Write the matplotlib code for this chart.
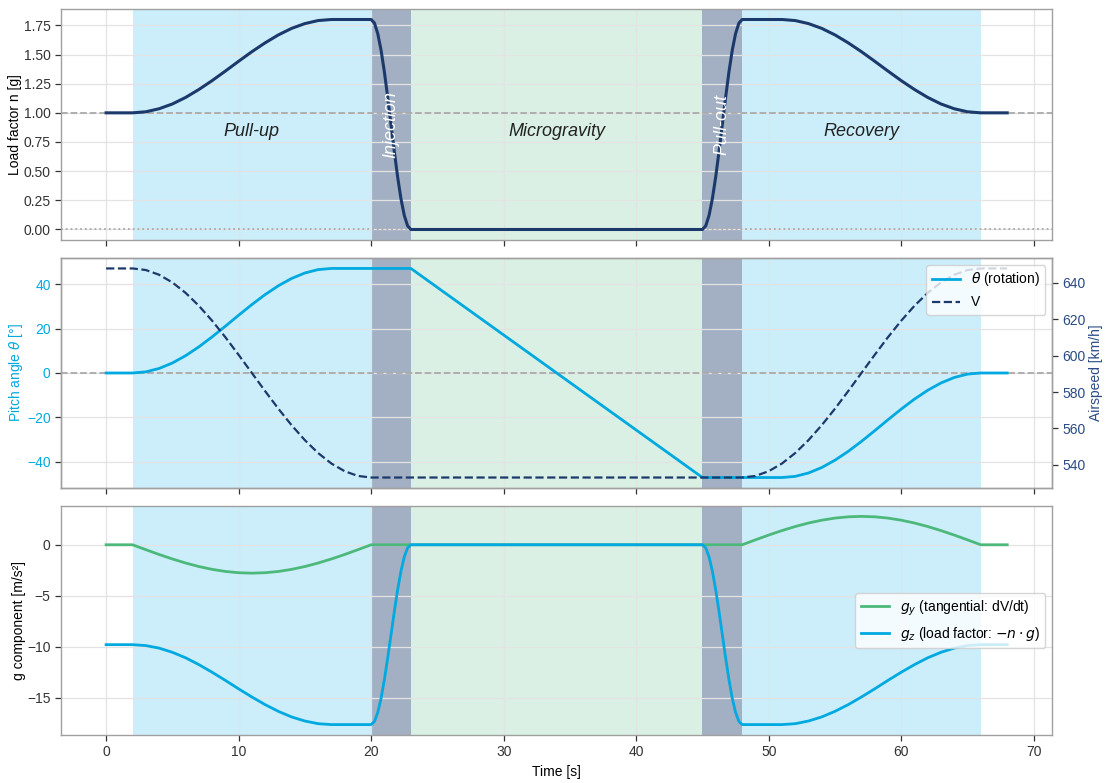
import matplotlib
matplotlib.use("Agg")
import matplotlib.pyplot as plt

plt.rcParams['font.family'] = ['Liberation Sans', 'DejaVu Sans']
plt.rcParams['mathtext.fontset'] = 'dejavusans'
plt.rcParams['axes.edgecolor'] = '#a0a0a0'
plt.rcParams['axes.linewidth'] = 1.0
plt.rcParams['grid.color'] = '#e3e3e3'
plt.rcParams['grid.linewidth'] = 0.9
plt.rcParams['xtick.color'] = '#333333'
plt.rcParams['ytick.color'] = '#333333'
plt.rcParams['xtick.labelcolor'] = '#333333'
plt.rcParams['ytick.labelcolor'] = '#333333'
plt.rcParams['axes.axisbelow'] = True

# ---------------- data ----------------
time_s = [0, 1, 2, 3, 4, 5, 6, 7, 8, 9, 10, 11, 12, 13, 14, 15, 16, 17, 18, 19, 20,
          20.25, 20.5, 20.75, 21, 21.25, 21.5, 21.75, 22, 22.25, 22.5, 22.75, 23,
          24, 25, 26, 27, 28, 29, 30, 31, 32, 33, 34, 35, 36, 37, 38, 39, 40, 41, 42, 43, 44, 45,
          45.25, 45.5, 45.75, 46, 46.25, 46.5, 46.75, 47, 47.25, 47.5, 47.75, 48,
          49, 50, 51, 52, 53, 54, 55, 56, 57, 58, 59, 60, 61, 62, 63, 64, 65, 66, 67, 68]

load_factor = [1.0, 1.0, 1.0, 1.009, 1.035, 1.076, 1.132, 1.2, 1.276, 1.358, 1.442, 1.524, 1.6, 1.668,
               1.724, 1.765, 1.791, 1.8, 1.8, 1.8, 1.8,
               1.769, 1.679, 1.536, 1.35, 1.133, 0.9, 0.667, 0.45, 0.264, 0.121, 0.031, 0.0,
               0.0, 0.0, 0.0, 0.0, 0.0, 0.0, 0.0, 0.0, 0.0, 0.0, 0.0, 0.0, 0.0, 0.0, 0.0, 0.0,
               0.0, 0.0, 0.0, 0.0, 0.0, 0.0,
               0.031, 0.121, 0.264, 0.45, 0.667, 0.9, 1.133, 1.35, 1.536, 1.679, 1.769, 1.8,
               1.8, 1.8, 1.8, 1.791, 1.765, 1.724, 1.668, 1.6, 1.524, 1.442, 1.358, 1.276, 1.2,
               1.132, 1.076, 1.035, 1.009, 1.0, 1.0, 1.0]

pitch_deg = [0.0, 0.0, 0.0, 0.51, 2.03, 4.49, 7.78, 11.75, 16.24, 21.04, 25.96, 30.76, 35.25, 39.22,
             42.51, 44.97, 46.49, 47.0, 47.0, 47.0, 47.0,
             47.0, 47.0, 47.0, 47.0, 47.0, 47.0, 47.0, 47.0, 47.0, 47.0, 47.0, 47.0,
             42.73, 38.45, 34.18, 29.91, 25.64, 21.36, 17.09, 12.82, 8.55, 4.27, 0.0, -4.27,
             -8.55, -12.82, -17.09, -21.36, -25.64, -29.91, -34.18, -38.45, -42.73, -47.0,
             -47.0, -47.0, -47.0, -47.0, -47.0, -47.0, -47.0, -47.0, -47.0, -47.0, -47.0, -47.0,
             -47.0, -47.0, -47.0, -46.49, -44.97, -42.51, -39.22, -35.25, -30.76, -25.96, -21.04,
             -16.24, -11.75, -7.78, -4.49, -2.03, -0.51, 0.0, 0.0, 0.0]

airspeed_kmh = [648.0, 648.0, 648.0, 647.13, 644.53, 640.3, 634.55, 627.46, 619.25, 610.17, 600.48,
                590.5, 580.52, 570.83, 561.75, 553.54, 546.45, 540.7, 536.47, 533.87, 533.0,
                533.0, 533.0, 533.0, 533.0, 533.0, 533.0, 533.0, 533.0, 533.0, 533.0, 533.0, 533.0,
                533.0, 533.0, 533.0, 533.0, 533.0, 533.0, 533.0, 533.0, 533.0, 533.0, 533.0, 533.0,
                533.0, 533.0, 533.0, 533.0, 533.0, 533.0, 533.0, 533.0, 533.0, 533.0,
                533.0, 533.0, 533.0, 533.0, 533.0, 533.0, 533.0, 533.0, 533.0, 533.0, 533.0, 533.0,
                533.87, 536.47, 540.7, 546.45, 553.54, 561.75, 570.83, 580.52, 590.5, 600.48,
                610.17, 619.25, 627.46, 634.55, 640.3, 644.53, 647.13, 648.0, 648.0, 648.0]

g_y = [0.0, 0.0, 0.0, -0.484, -0.954, -1.394, -1.792, -2.136, -2.414, -2.62, -2.746, -2.788,
       -2.746, -2.62, -2.414, -2.136, -1.792, -1.394, -0.954, -0.484, 0.0,
       0.0, 0.0, 0.0, 0.0, 0.0, 0.0, 0.0, 0.0, 0.0, 0.0, 0.0, 0.0,
       0.0, 0.0, 0.0, 0.0, 0.0, 0.0, 0.0, 0.0, 0.0, 0.0, 0.0, 0.0, 0.0, 0.0, 0.0, 0.0,
       0.0, 0.0, 0.0, 0.0, 0.0, 0.0,
       0.0, 0.0, 0.0, 0.0, 0.0, 0.0, 0.0, 0.0, 0.0, 0.0, 0.0, 0.0,
       0.484, 0.954, 1.394, 1.792, 2.136, 2.414, 2.62, 2.746, 2.788, 2.746, 2.62, 2.414,
       2.136, 1.792, 1.394, 0.954, 0.484, 0.0, 0.0, 0.0]

g_z = [-9.81, -9.81, -9.81, -9.9, -10.15, -10.56, -11.1, -11.77, -12.52, -13.32, -14.15, -14.95,
       -15.7, -16.36, -16.91, -17.31, -17.57, -17.66, -17.66, -17.66, -17.66,
       -17.35, -16.47, -15.07, -13.24, -11.11, -8.83, -6.54, -4.41, -2.59, -1.19, -0.3, 0.0,
       0.0, 0.0, 0.0, 0.0, 0.0, 0.0, 0.0, 0.0, 0.0, 0.0, 0.0, 0.0, 0.0, 0.0, 0.0, 0.0,
       0.0, 0.0, 0.0, 0.0, 0.0, 0.0,
       -0.3, -1.19, -2.59, -4.41, -6.54, -8.83, -11.11, -13.24, -15.07, -16.47, -17.35, -17.66,
       -17.66, -17.66, -17.66, -17.57, -17.31, -16.91, -16.36, -15.7, -14.95, -14.15, -13.32,
       -12.52, -11.77, -11.1, -10.56, -10.15, -9.9, -9.81, -9.81, -9.81]

phase_names = ["Pull-up", "Injection", "Microgravity", "Pull-out", "Recovery"]
phase_start = [2, 20, 23, 45, 48]
phase_end = [20, 23, 45, 48, 66]
phase_kind = ["maneuver", "transition", "micro", "transition", "maneuver"]

# ---------------- style ----------------
NAVY = '#1B3A6B'
CYAN = '#00A9E0'
GREEN = '#4CB87A'
span_color = {"maneuver": ('#00AEEF', 0.20), "transition": ('#1B3A6B', 0.40), "micro": ('#4CB87A', 0.20)}

fig = plt.figure(figsize=(11.1, 7.83), dpi=100)
L, W = 0.055, 0.893
ax1 = fig.add_axes([L, 0.6935, W, 0.295])
ax2 = fig.add_axes([L, 0.3768, W, 0.2937], sharex=ax1)
ax3 = fig.add_axes([L, 0.0613, W, 0.2925], sharex=ax1)

for ax in (ax1, ax2, ax3):
    ax.set_facecolor('white')
    ax.grid(True)
    for s, e, k in zip(phase_start, phase_end, phase_kind):
        c, a = span_color[k]
        ax.axvspan(s, e, color=c, alpha=a, lw=0, zorder=0)
    ax.tick_params(labelsize=10, length=4, width=0.9)

# top panel
ax1.plot(time_s, load_factor, color=NAVY, lw=2.2, zorder=3)
ax1.axhline(1.0, color='#aaaaaa', ls='--', lw=1.3, zorder=2)
ax1.axhline(0.0, color='#aaaaaa', ls=':', lw=1.3, zorder=2)
ax1.set_ylabel("Load factor n [g]", fontsize=10, labelpad=1)
ax1.tick_params(labelbottom=False)
for name, s, e, k in zip(phase_names, phase_start, phase_end, phase_kind):
    xc = (s + e) / 2
    if k == "transition":
        ax1.text(xc, 0.9, name, rotation=90, ha='center', va='center', color='white',
                 fontsize=13, style='italic', zorder=4)
    else:
        ax1.text(xc, 0.84, name, ha='center', va='center', color='#222222',
                 fontsize=13, style='italic', zorder=4)

# middle panel
l1, = ax2.plot(time_s, pitch_deg, color=CYAN, lw=2.0, zorder=3, label=r'$\theta$ (rotation)')
ax2.axhline(0.0, color='#aaaaaa', ls='--', lw=1.3, zorder=2)
ax2.set_ylabel(r"Pitch angle $\theta$ [°]", color=CYAN, fontsize=10, labelpad=1)
ax2.tick_params(axis='y', labelcolor=CYAN)
ax2.tick_params(labelbottom=False)
ax2r = ax2.twinx()
l2, = ax2r.plot(time_s, airspeed_kmh, color=NAVY, lw=1.6, ls='--', zorder=3, label='V')
ax2r.grid(False)
ax2r.set_ylabel("Airspeed [km/h]", color='#2A4A85', fontsize=10, labelpad=2)
ax2r.tick_params(axis='y', labelcolor='#2A4A85', labelsize=10, length=4, width=0.9)
ax2r.legend(handles=[l1, l2], loc='upper right', fontsize=10, framealpha=0.8)

# bottom panel
ax3.plot(time_s, g_y, color=GREEN, lw=2.0, zorder=3, label=r'$g_y$ (tangential: dV/dt)')
ax3.plot(time_s, g_z, color=CYAN, lw=2.0, zorder=3, label=r'$g_z$ (load factor: $-n \cdot g$)')
ax3.set_ylabel("g component [m/s²]", fontsize=10, labelpad=1)
ax3.set_xlabel("Time [s]", fontsize=10)
ax3.legend(loc='center right', fontsize=10, framealpha=0.8)

fig.savefig("out.png", dpi=100)
